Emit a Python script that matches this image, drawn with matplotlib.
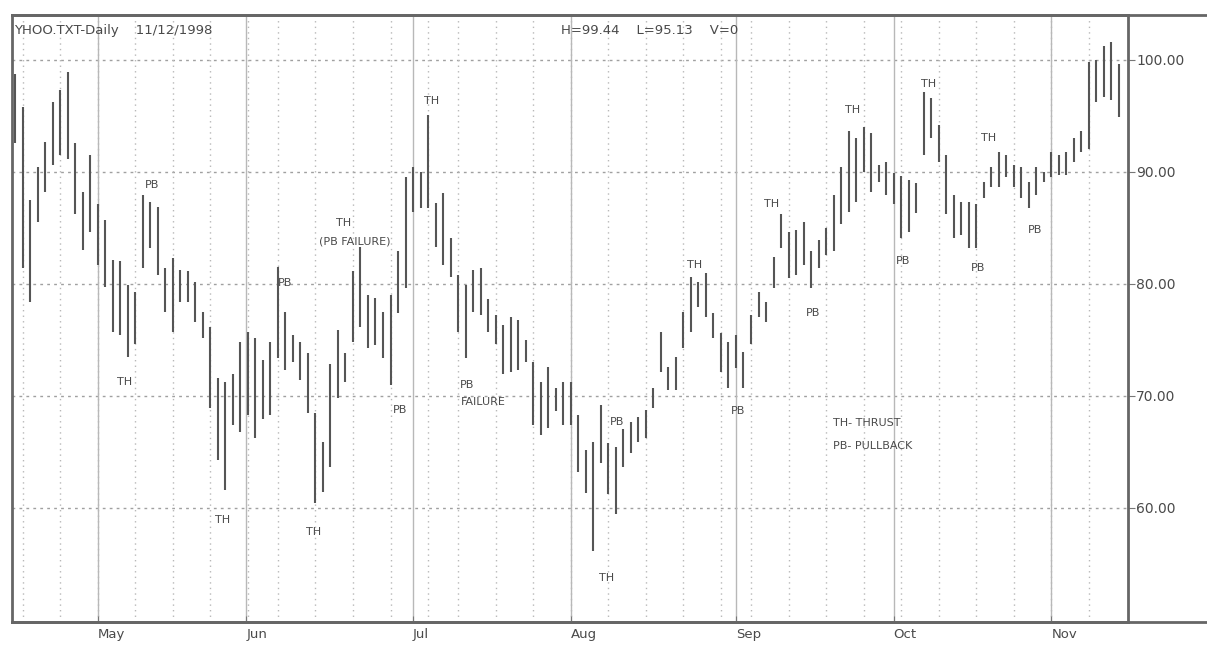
import matplotlib
matplotlib.use('Agg')
import matplotlib.pyplot as plt
from matplotlib.lines import Line2D

# daily bars (high / low), one per trading day
highs = [98.7, 95.8, 87.5, 90.4, 92.7, 96.25, 97.3, 98.9, 92.6, 88.2,
         91.5, 87.1, 85.7, 82.1, 82.0, 79.9, 79.3, 87.9, 87.3, 86.9,
         81.4, 82.3, 81.25, 81.1, 80.2, 77.5, 76.1, 71.6, 71.25, 71.9,
         74.8, 75.7, 75.2, 73.2, 74.8, 81.5, 77.5, 75.4, 74.8, 73.8,
         68.5, 65.9, 72.8, 75.9, 73.8, 81.1, 83.3, 79.0, 78.75, 77.5,
         79.0, 82.9, 89.5, 90.4, 90.0, 95.1, 87.2, 88.1, 84.1, 80.8,
         79.9, 81.25, 81.4, 78.6, 77.2, 76.3, 77.0, 76.8, 75.0, 73.0,
         71.25, 72.6, 70.7, 71.25, 71.2, 68.3, 65.2, 65.9, 69.2, 65.8,
         65.4, 67.0, 67.7, 68.1, 68.75, 70.7, 75.7, 72.6, 73.5, 77.5,
         80.6, 80.2, 81.0, 77.4, 75.6, 74.8, 75.4, 73.9, 77.2, 79.3,
         78.4, 82.4, 86.2, 84.6, 84.8, 85.5, 82.9, 83.9, 85.0, 87.9,
         90.4, 93.6, 93.0, 94.0, 93.5, 90.6, 90.9, 89.9, 89.6, 89.3,
         89.0, 97.1, 96.6, 94.2, 91.5, 87.9, 87.3, 87.3, 87.1, 89.1,
         90.4, 91.8, 91.5, 90.6, 90.4, 89.1, 90.4, 90.0, 91.8, 91.5,
         91.8, 93.0, 93.6, 99.8, 100.0, 101.2, 101.6, 99.6]
lows = [92.6, 81.4, 78.4, 85.5, 88.2, 90.6, 91.5, 91.1, 86.2, 83.0,
        84.6, 81.7, 79.7, 75.7, 75.4, 73.5, 74.6, 81.4, 83.2, 80.8,
        77.5, 75.7, 78.4, 78.4, 76.6, 75.2, 68.9, 64.3, 61.6, 67.4,
        66.8, 68.3, 66.25, 67.9, 68.3, 73.4, 72.3, 73.0, 71.4, 68.5,
        60.4, 61.4, 63.6, 69.8, 71.2, 74.8, 76.1, 74.3, 74.5, 73.4,
        71.0, 77.4, 79.6, 86.4, 86.8, 86.8, 83.3, 81.7, 80.6, 75.7,
        73.4, 77.5, 77.2, 75.7, 74.6, 71.9, 72.1, 72.3, 73.0, 67.4,
        66.5, 67.1, 68.6, 67.4, 67.4, 63.2, 61.3, 56.1, 64.0, 61.2,
        59.4, 63.6, 64.9, 65.9, 66.25, 68.9, 72.1, 70.5, 70.5, 74.3,
        75.7, 77.9, 77.0, 75.2, 72.1, 70.7, 72.5, 70.7, 74.6, 77.0,
        76.6, 79.6, 83.2, 80.5, 80.8, 81.7, 79.6, 81.4, 82.6, 82.9,
        85.3, 86.4, 87.3, 90.0, 88.2, 89.1, 87.9, 87.1, 84.1, 84.6,
        86.3, 91.5, 93.0, 90.9, 86.2, 84.1, 84.4, 83.2, 83.2, 87.7,
        88.6, 88.6, 89.5, 88.6, 87.7, 86.8, 87.9, 89.1, 89.5, 89.7,
        89.7, 90.9, 91.8, 92.0, 96.2, 96.7, 96.4, 94.9]

month_names = ['May', 'Jun', 'Jul', 'Aug', 'Sep', 'Oct', 'Nov']
month_start = [11, 30.8, 53, 74, 96, 117, 138]
week_lines = [1, 6, 11, 16, 21, 26, 31, 35, 40, 45, 50, 55, 59, 64, 69, 74,
              79, 84, 89, 94, 98, 103, 108, 113, 118, 123, 128, 133, 138, 143]
price_ticks = [60, 70, 80, 90, 100]

# (text, bar position, price)
notes = [('TH', 14.6, 71.2), ('PB', 18.2, 88.8), ('TH', 27.6, 58.9),
         ('PB', 36.0, 80.1), ('TH', 39.7, 57.8), ('TH', 43.7, 85.4),
         ('(PB FAILURE)', 45.3, 83.8), ('PB', 51.3, 68.75), ('TH', 55.5, 96.3),
         ('PB', 60.2, 71.0), ('FAILURE', 62.3, 69.4), ('TH', 78.8, 53.75),
         ('PB', 80.2, 67.7), ('TH', 90.5, 81.7), ('PB', 96.3, 68.6),
         ('TH', 100.8, 87.1), ('PB', 106.3, 77.4), ('TH', 111.5, 95.5),
         ('PB', 118.2, 82.0), ('TH', 121.6, 97.8), ('PB', 128.2, 81.4),
         ('TH', 129.6, 93.0), ('PB', 135.8, 84.8)]

ink = '#4a4a4a'
fig = plt.figure(figsize=(12.07, 6.48), dpi=100)
ax = fig.add_axes([12 / 1207, 1 - 622 / 648, (1128 - 12) / 1207, (622 - 15) / 648])

x = list(range(len(highs)))
ax.vlines(x, lows, highs, color='#555555', linewidth=1.5)

ax.set_xlim(-0.4, 148.2)
ax.set_ylim(49.8, 104.0)

# grid
for p in price_ticks:
    ax.axhline(p, color='#a0a0a0', linewidth=1, linestyle=(0, (2, 3)), zorder=0)
for w in week_lines:
    ax.axvline(w, color='#b8b8b8', linewidth=1, linestyle=(0, (1, 3)), zorder=0)
for m in month_start:
    ax.axvline(m, color='#b8b8b8', linewidth=1, zorder=0)

# price scale on the right
ax.yaxis.tick_right()
ax.set_yticks(price_ticks)
ax.set_yticklabels(['%.2f' % p for p in price_ticks])
ax.tick_params(axis='y', direction='out', length=5, color='#777777',
               labelsize=10, labelcolor=ink, pad=1)

ax.set_xticks(month_start)
ax.set_xticklabels(month_names, ha='left')
ax.tick_params(axis='x', direction='in', length=4, color='#777777',
               labelsize=9.5, labelcolor=ink, pad=4)

for s in ax.spines.values():
    s.set_color('#666666')
    s.set_linewidth(2)

for txt, xi, yi in notes:
    ax.text(xi, yi, txt, fontsize=8, color=ink, ha='center', va='center')

ax.text(108.9, 67.6, 'TH- THRUST', fontsize=8, color=ink, ha='left', va='center')
ax.text(108.9, 65.5, 'PB- PULLBACK', fontsize=8, color=ink, ha='left', va='center')

ax.text(0.002, 0.985, 'YHOO.TXT-Daily    11/12/1998', transform=ax.transAxes,
        fontsize=9.5, color=ink, ha='left', va='top')
ax.text(0.492, 0.985, 'H=99.44    L=95.13    V=0', transform=ax.transAxes,
        fontsize=9.5, color=ink, ha='left', va='top')

# frame lines that run on past the price scale
fig.add_artist(Line2D([12 / 1207, 1.0], [1 - 15 / 648] * 2, color='#666666', linewidth=2))
fig.add_artist(Line2D([12 / 1207, 1.0], [1 - 622 / 648] * 2, color='#666666', linewidth=2))

plt.savefig('out.png', dpi=100)
